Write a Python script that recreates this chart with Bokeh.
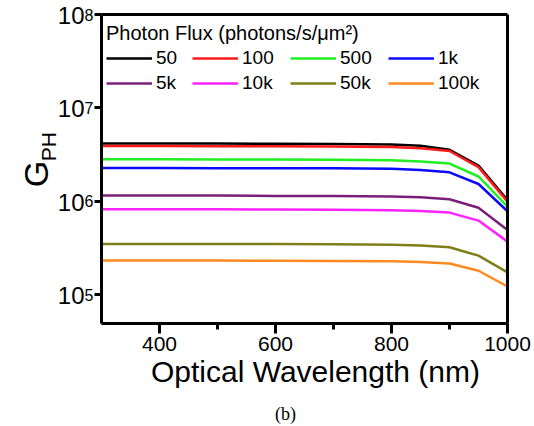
import math
from bokeh.plotting import figure
from bokeh.models import (Legend, LegendItem, Label, FixedTicker, Range1d,
                          LinearAxis, LogAxis)
from bokeh.embed import file_html
from bokeh.resources import INLINE

# ---- data ----
wavelength = [300, 400, 500, 600, 700, 800, 850, 900, 950, 1000]
g_50   = [4.15e6, 4.15e6, 4.14e6, 4.13e6, 4.11e6, 4.05e6, 3.93e6, 3.55e6, 2.41e6, 1.03e6]
g_100  = [3.90e6, 3.90e6, 3.89e6, 3.88e6, 3.86e6, 3.81e6, 3.70e6, 3.45e6, 2.32e6, 0.99e6]
g_500  = [2.81e6, 2.81e6, 2.80e6, 2.80e6, 2.78e6, 2.74e6, 2.67e6, 2.53e6, 1.84e6, 8.75e5]
g_1k   = [2.27e6, 2.27e6, 2.26e6, 2.26e6, 2.25e6, 2.22e6, 2.16e6, 2.04e6, 1.53e6, 7.80e5]
g_5k   = [1.15e6, 1.15e6, 1.15e6, 1.14e6, 1.14e6, 1.12e6, 1.10e6, 1.05e6, 8.50e5, 4.92e5]
g_10k  = [8.20e5, 8.20e5, 8.20e5, 8.15e5, 8.10e5, 8.00e5, 7.85e5, 7.55e5, 6.20e5, 3.69e5]
g_50k  = [3.48e5, 3.48e5, 3.47e5, 3.47e5, 3.46e5, 3.42e5, 3.36e5, 3.21e5, 2.61e5, 1.73e5]
g_100k = [2.31e5, 2.31e5, 2.31e5, 2.30e5, 2.29e5, 2.27e5, 2.23e5, 2.15e5, 1.80e5, 1.22e5]

series = [g_50, g_100, g_500, g_1k, g_5k, g_10k, g_50k, g_100k]
flux_labels = ["50", "100", "500", "1k", "5k", "10k", "50k", "100k"]
colors = ["#000000", "#ff1a1a", "#22ee22", "#0a0aff", "#7a1f7a", "#ff22ff", "#7f7f1a", "#ff8a1f"]

x_ticks = [400, 600, 800, 1000]
x_minor_ticks = [500, 700, 900]
y_tick_exponents = [5, 6, 7, 8]

X_MIN, X_MAX = 300, 1000
Y_MIN, Y_MAX = 10 ** 4.69, 1e8

# ---- layout (pixels) ----
W, H = 534, 426
BOX_L, BOX_R, BOX_T, BOX_B = 101, 507, 14, 323
FONT = "Liberation Sans"

ppx = (BOX_R - BOX_L) / (X_MAX - X_MIN)
x_view = (X_MIN - BOX_L / ppx, X_MAX + (W - BOX_R) / ppx)
ly0, ly1 = math.log10(Y_MIN), math.log10(Y_MAX)
ppd = (BOX_B - BOX_T) / (ly1 - ly0)
y_view = (10 ** (ly0 - (H - BOX_B) / ppd), 10 ** (ly1 + BOX_T / ppd))

p = figure(width=W, height=H, y_axis_type="log",
           x_range=Range1d(*x_view), y_range=Range1d(*y_view),
           output_backend="svg", toolbar_location=None,
           min_border_left=0, min_border_right=0,
           min_border_top=0, min_border_bottom=0)
p.background_fill_color = "white"
p.border_fill_color = "white"
p.grid.visible = False
p.outline_line_color = None

renderers = []
for vals, col in zip(series, colors):
    r = p.line(wavelength, vals, line_color=col, line_width=2.5)
    renderers.append(r)

# bottom x axis
xa = p.xaxis[0]
xa.fixed_location = Y_MIN
xa.bounds = (X_MIN, X_MAX)
xa.ticker = FixedTicker(ticks=x_ticks, minor_ticks=x_minor_ticks)
xa.axis_line_width = 3
xa.major_tick_line_width = 3
xa.minor_tick_line_width = 3
xa.major_tick_out = 10
xa.major_tick_in = 0
xa.minor_tick_out = 6
xa.minor_tick_in = 0
xa.major_label_text_font = FONT
xa.major_label_text_font_size = "21px"
xa.major_label_text_color = "black"
xa.major_label_standoff = 3

# x axis title
p.add_layout(Label(x=X_MIN + (315 - BOX_L) / ppx, y=Y_MIN, text="Optical Wavelength (nm)",
                   text_align="center", text_baseline="alphabetic", y_offset=-48,
                   text_font=FONT, text_font_size="30px", text_color="black"))

# left y axis
ya = p.yaxis[0]
ya.fixed_location = X_MIN
ya.bounds = (Y_MIN, Y_MAX)
ya.ticker = FixedTicker(ticks=[10.0 ** e for e in y_tick_exponents], minor_ticks=[])
ya.axis_line_width = 3
ya.major_tick_line_width = 3
ya.major_tick_out = 7
ya.major_tick_in = 0
ya.minor_tick_out = 0
ya.minor_tick_in = 0
ya.major_label_text_color = None

# top and right frame lines
top = LinearAxis(fixed_location=Y_MAX, bounds=(X_MIN, X_MAX),
                 ticker=FixedTicker(ticks=[], minor_ticks=[]),
                 axis_line_width=3, major_label_text_color=None,
                 major_tick_line_color=None, minor_tick_line_color=None)
p.add_layout(top, "above")
right = LogAxis(fixed_location=X_MAX, bounds=(Y_MIN, Y_MAX),
                ticker=FixedTicker(ticks=[], minor_ticks=[]),
                axis_line_width=3, major_label_text_color=None,
                major_tick_line_color=None, minor_tick_line_color=None)
p.add_layout(right, "right")

# y tick labels 10^e
for e in y_tick_exponents:
    p.add_layout(Label(x=X_MIN, y=10.0 ** e, text="10", text_align="right",
                       text_baseline="middle", x_offset=-17, y_offset=-1,
                       text_font=FONT, text_font_size="24px", text_color="black"))
    p.add_layout(Label(x=X_MIN, y=10.0 ** e, text=str(e), text_align="left",
                       text_baseline="alphabetic", x_offset=-17, y_offset=0,
                       text_font=FONT, text_font_size="16px", text_color="black"))

# y axis title G_PH
p.add_layout(Label(x=X_MIN, y=1e6, text="G", angle=math.pi / 2, text_align="left",
                   text_baseline="alphabetic", x_offset=-66, y_offset=14,
                   text_font=FONT, text_font_size="34px", text_color="black"))
p.add_layout(Label(x=X_MIN, y=1e6, text="PH", angle=math.pi / 2, text_align="left",
                   text_baseline="alphabetic", x_offset=-53, y_offset=40,
                   text_font=FONT, text_font_size="21px", text_color="black"))

# caption
p.add_layout(Label(x=285, y=H - 413, x_units="screen", y_units="screen", text="(b)",
                   text_align="center", text_baseline="middle",
                   text_font="Liberation Serif", text_font_size="18px", text_color="black"))

# legend: one block per column
common = dict(label_text_font=FONT, label_text_font_size="19px", label_text_color="black",
              glyph_width=46, glyph_height=20, label_height=20, label_standoff=4,
              spacing=3, padding=4, margin=0,
              border_line_alpha=0, background_fill_alpha=0)
col_left = [102, 188, 286, 384]
for c in range(4):
    its = [LegendItem(label=flux_labels[c], renderers=[renderers[c]]),
           LegendItem(label=flux_labels[c + 4], renderers=[renderers[c + 4]])]
    if c == 0:
        lg = Legend(items=its, location=(col_left[c], 328),
                    title="Photon Flux (photons/s/\u03bcm\u00b2)",
                    title_text_font=FONT, title_text_font_size="20px",
                    title_text_font_style="normal", title_text_color="black",
                    title_standoff=2, **common)
    else:
        lg = Legend(items=its, location=(col_left[c], 328), **common)
    p.add_layout(lg)

open("out.html", "w").write(file_html(p, INLINE))
